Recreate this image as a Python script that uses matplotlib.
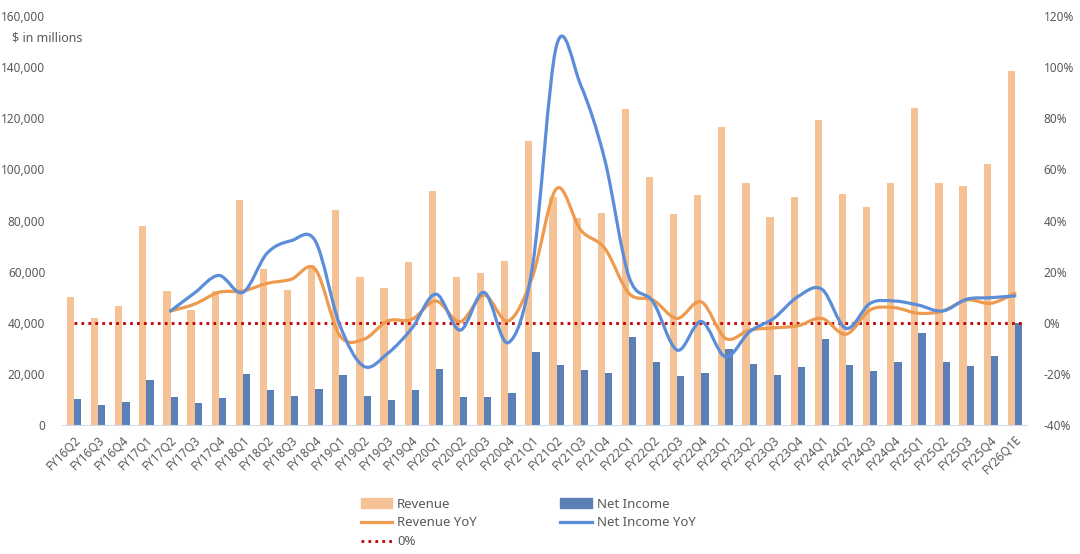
import numpy as np
import matplotlib
matplotlib.use("Agg")
import matplotlib.pyplot as plt
from matplotlib.path import Path
from matplotlib.patches import PathPatch
from matplotlib.lines import Line2D

plt.rcParams['font.family'] = ['Noto Sans', 'DejaVu Sans']

quarters = ["FY16Q2", "FY16Q3", "FY16Q4",
            "FY17Q1", "FY17Q2", "FY17Q3", "FY17Q4",
            "FY18Q1", "FY18Q2", "FY18Q3", "FY18Q4",
            "FY19Q1", "FY19Q2", "FY19Q3", "FY19Q4",
            "FY20Q1", "FY20Q2", "FY20Q3", "FY20Q4",
            "FY21Q1", "FY21Q2", "FY21Q3", "FY21Q4",
            "FY22Q1", "FY22Q2", "FY22Q3", "FY22Q4",
            "FY23Q1", "FY23Q2", "FY23Q3", "FY23Q4",
            "FY24Q1", "FY24Q2", "FY24Q3", "FY24Q4",
            "FY25Q1", "FY25Q2", "FY25Q3", "FY25Q4",
            "FY26Q1E"]

# $ in millions
revenue = [50200, 42000, 46700,
           78000, 52600, 45000, 52300,
           88000, 60900, 52800, 62600,
           84100, 57800, 53500, 63600,
           91400, 57900, 59300, 64300,
           111000, 89300, 81000, 83100,
           123500, 96900, 82500, 89800,
           116700, 94500, 81400, 89100,
           119200, 90500, 85400, 94500,
           123900, 94800, 93600, 102100,
           138600]

net_income = [10300, 7700, 8900,
              17700, 10800, 8500, 10600,
              19900, 13700, 11300, 14000,
              19700, 11200, 9900, 13600,
              21900, 11100, 11100, 12500,
              28600, 23300, 21500, 20300,
              34400, 24800, 19200, 20500,
              29700, 24000, 19700, 22700,
              33600, 23300, 21100, 24800,
              36100, 24500, 23100, 27100,
              40000]

# YoY growth in %, available from FY17Q2
revenue_yoy = [None, None, None, None,
               4.6, 7.3, 11.9,
               12.4, 15.4, 17.0, 20.9,
               -4.8, -6.5, 0.7, 1.3,
               8.5, 0.4, 10.8, 0.7,
               18.0, 52.5, 36.3, 29.1,
               11.5, 8.9, 1.7, 8.2,
               -6.1, -2.9, -2.0, -1.2,
               1.7, -4.5, 5.0, 5.9,
               3.7, 4.6, 8.9, 7.6,
               11.5]

net_income_yoy = [None, None, None, None,
                  4.6, 11.7, 18.5,
                  11.9, 27.2, 32.1, 32.0,
                  -0.5, -17.0, -12.0, -2.2,
                  11.2, -2.9, 11.9, -7.8,
                  21.9, 108.5, 93.0, 63.7,
                  18.0, 8.2, -10.7, 0.5,
                  -13.3, -3.5, 1.7, 10.2,
                  13.1, -2.2, 7.6, 8.5,
                  6.9, 4.6, 9.2, 9.8,
                  10.5]

REV_COLOR = "#F4C295"
NI_COLOR = "#5B80B8"
REV_LINE = "#EE9A4F"
NI_LINE = "#5B8DD9"
ZERO_COLOR = "#C00000"
TEXT_COLOR = "#595959"


def smooth_path(xs, ys):
    # Excel-style smoothed line: cubic Bezier through the points
    pts = np.column_stack([xs, ys])
    n = len(pts)
    verts = [pts[0]]
    codes = [Path.MOVETO]
    for i in range(n - 1):
        p0 = pts[max(i - 1, 0)]
        p1 = pts[i]
        p2 = pts[i + 1]
        p3 = pts[min(i + 2, n - 1)]
        c1 = p1 + (p2 - p0) / 6.0
        c2 = p2 - (p3 - p1) / 6.0
        verts += [c1, c2, p2]
        codes += [Path.CURVE4] * 3
    return Path(verts, codes)


x = np.arange(len(quarters))
bw = 0.3

fig = plt.figure(figsize=(10.8, 5.54), dpi=100)
ax = fig.add_axes([62 / 1080, 129 / 554, 965 / 1080, 409 / 554])
ax2 = ax.twinx()

ax.bar(x - bw / 2, revenue, width=bw, color=REV_COLOR, label="Revenue")
ax.bar(x + bw / 2, net_income, width=bw, color=NI_COLOR, label="Net Income")

ax.set_xlim(-0.5, len(quarters) - 0.5)
ax.set_ylim(0, 160000)
ax.set_yticks(np.arange(0, 160001, 20000))
ax.set_yticklabels([f"{v:,}" for v in range(0, 160001, 20000)])
ax2.set_ylim(-40, 120)
ax2.set_yticks(np.arange(-40, 121, 20))
ax2.set_yticklabels([f"{v}%" for v in range(-40, 121, 20)])

for series, col in [(revenue_yoy, REV_LINE), (net_income_yoy, NI_LINE)]:
    idx = [i for i, v in enumerate(series) if v is not None]
    path = smooth_path(np.array(idx, float), np.array([series[i] for i in idx], float))
    ax2.add_patch(PathPatch(path, facecolor="none", edgecolor=col, lw=2.3,
                            capstyle="round", joinstyle="round", zorder=3))

ax2.hlines(0, x[0], x[-1] + 0.35, colors=ZERO_COLOR, linestyles=(0, (1, 1.5)),
           lw=2.0, zorder=2)

ax.set_xticks(x)
ax.set_xticklabels(quarters, rotation=45, ha="right", va="top",
                   rotation_mode="anchor")

for a in (ax, ax2):
    for s in a.spines.values():
        s.set_visible(False)
    a.tick_params(length=0, colors=TEXT_COLOR, labelsize=8.5)
ax.spines["bottom"].set_visible(True)
ax.spines["bottom"].set_color("#D0DCEC")
ax.tick_params(axis="y", pad=12)
ax.tick_params(axis="x", pad=6)
ax2.tick_params(axis="y", pad=12)

fig.text(12 / 1080, 1 - 38 / 554, "$ in millions", color=TEXT_COLOR,
         fontsize=9, va="center", ha="left")

handles = [
    plt.Rectangle((0, 0), 1, 1, color=REV_COLOR),
    Line2D([], [], color=REV_LINE, lw=2.3),
    Line2D([], [], color=ZERO_COLOR, lw=2.0, linestyle=(0, (1, 1.5))),
    plt.Rectangle((0, 0), 1, 1, color=NI_COLOR),
    Line2D([], [], color=NI_LINE, lw=2.3),
]
labels = ["Revenue", "Revenue YoY", "0%", "Net Income", "Net Income YoY"]
fig.legend(handles, labels, ncol=2, loc="center", bbox_to_anchor=(0.489, 0.056),
           frameon=False, fontsize=9.5, labelcolor=TEXT_COLOR, handlelength=2.4,
           handleheight=0.8, handletextpad=0.35, columnspacing=6.35,
           labelspacing=0.45)

fig.savefig("out.png", dpi=100)
